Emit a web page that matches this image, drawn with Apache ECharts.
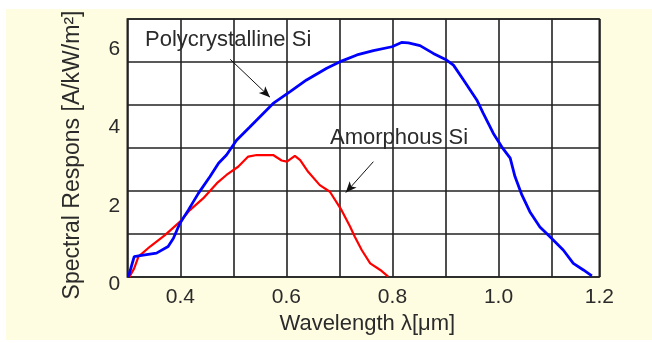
<!DOCTYPE html>
<html><head><meta charset="utf-8">
<script src="https://cdn.jsdelivr.net/npm/echarts@6/dist/echarts.min.js"></script>
<style>html,body{margin:0;padding:0;background:#fff}#c{width:652px;height:343px}</style>
</head><body><div id="c"></div>
<script>
// Polycrystalline Si (blue)
const polyWavelength = [0.302,0.313,0.330,0.355,0.377,0.387,0.399,0.415,0.434,0.456,0.472,0.487,0.506,0.531,0.575,0.607,0.638,0.676,0.705,0.733,0.764,0.799,0.817,0.830,0.852,0.877,0.902,0.915,0.934,0.959,0.971,0.990,1.006,1.022,1.031,1.044,1.059,1.078,1.097,1.122,1.141,1.160,1.176];
const polyResponse   = [0.00,0.52,0.56,0.61,0.78,0.99,1.37,1.71,2.14,2.57,2.91,3.12,3.50,3.84,4.44,4.74,5.04,5.34,5.53,5.68,5.79,5.89,6.00,5.99,5.92,5.72,5.55,5.42,5.04,4.53,4.19,3.68,3.33,3.04,2.57,2.10,1.67,1.28,1.03,0.69,0.35,0.18,0.03];
// Amorphous Si (red)
const amorWavelength = [0.304,0.313,0.321,0.343,0.371,0.399,0.418,0.443,0.469,0.487,0.509,0.528,0.544,0.575,0.591,0.601,0.616,0.626,0.641,0.663,0.682,0.704,0.720,0.729,0.742,0.758,0.777,0.792];
const amorResponse   = [0.00,0.22,0.52,0.78,1.07,1.41,1.71,2.01,2.40,2.61,2.82,3.08,3.12,3.12,2.98,2.95,3.10,2.99,2.69,2.35,2.18,1.71,1.29,1.03,0.69,0.35,0.18,0.01];
const xTickLabels = ['0.4','0.6','0.8','1.0','1.2'];
const yTickLabels = ['0','2','4','6'];
const polyLabel = 'Polycrystalline Si';
const amorLabel = 'Amorphous Si';
const polyArrow = [[0.494,5.57],[0.569,4.60]];
const amorArrow = [[0.764,2.95],[0.712,2.16]];

const FONT = 'Liberation Sans';
const TXT = '#2b2b2b';
const GRIDC = '#222';
const pair = (xs, ys) => xs.map((x, i) => [x, ys[i]]);

const chart = echarts.init(document.getElementById('c'), null, {renderer: 'canvas'});
chart.setOption({
  backgroundColor: '#ffffff',
  animation: false,
  graphic: [
    {type: 'rect', z: -10, shape: {x: 6, y: 9, width: 646, height: 331}, style: {fill: '#fffde1'}},
    {type: 'text', z: 50, x: 145, y: 40, style: {text: polyLabel, font: '22px "' + FONT + '"', fill: TXT, align: 'left', verticalAlign: 'middle'}},
    {type: 'text', z: 50, x: 330, y: 138, style: {text: amorLabel, font: '22px "' + FONT + '"', fill: TXT, align: 'left', verticalAlign: 'middle'}}
  ],
  grid: {left: 127.3, right: 52.7, top: 19, bottom: 66, show: true, backgroundColor: '#ffffff', borderColor: GRIDC, borderWidth: 1.6, containLabel: false},
  xAxis: {
    type: 'value', min: 0.3, max: 1.19, interval: 0.1,
    name: 'Wavelength λ[μm]', nameLocation: 'middle', nameGap: 36,
    nameTextStyle: {fontFamily: FONT, fontSize: 22, color: TXT, padding: [0, 0, 0, 8]},
    axisLine: {show: false}, axisTick: {show: false},
    splitLine: {show: true, lineStyle: {color: GRIDC, width: 1.6}},
    axisLabel: {
      margin: 10, fontFamily: FONT, fontSize: 21, color: TXT, showMinLabel: false,
      formatter: v => { if (v > 1.185) return xTickLabels[4]; const s = v.toFixed(1); return xTickLabels.includes(s) ? s : ''; }
    }
  },
  yAxis: [
    {
      type: 'value', min: 0, max: 6.6, interval: 1.1,
      axisLine: {show: false}, axisTick: {show: false}, axisLabel: {show: false},
      splitLine: {show: true, lineStyle: {color: GRIDC, width: 1.6}}
    },
    {
      type: 'value', min: 0, max: 6.6, interval: 2, position: 'left',
      name: 'Spectral Respons [A/kW/m²]', nameLocation: 'middle', nameRotate: 90, nameGap: 43,
      nameTextStyle: {fontFamily: FONT, fontSize: 23, color: TXT, padding: [0, 14, 0, 0]},
      axisLine: {show: false}, axisTick: {show: false}, splitLine: {show: false},
      axisLabel: {
        margin: 7, color: TXT, showMaxLabel: false,
        formatter: v => { const s = String(v); return yTickLabels.includes(s) ? '{t|' + s + '}' : ''; },
        rich: {t: {fontFamily: FONT, fontSize: 21, color: TXT, padding: [14, 0, 0, 0]}}
      }
    }
  ],
  series: [
    {
      type: 'line', name: polyLabel, yAxisIndex: 0, data: pair(polyWavelength, polyResponse),
      showSymbol: false, lineStyle: {color: '#0000ff', width: 2.8}, z: 5,
      markLine: {silent: true, symbol: ['none', 'arrow'], symbolSize: [7, 11], label: {show: false},
        lineStyle: {color: '#111', width: 1, type: 'solid'},
        data: [[{coord: polyArrow[0]}, {coord: polyArrow[1]}]]}
    },
    {
      type: 'line', name: amorLabel, yAxisIndex: 0, data: pair(amorWavelength, amorResponse),
      showSymbol: false, lineStyle: {color: '#ff0000', width: 2.2}, z: 4,
      markLine: {silent: true, symbol: ['none', 'arrow'], symbolSize: [7, 11], label: {show: false},
        lineStyle: {color: '#111', width: 1, type: 'solid'},
        data: [[{coord: amorArrow[0]}, {coord: amorArrow[1]}]]}
    }
  ]
});
</script></body></html>
